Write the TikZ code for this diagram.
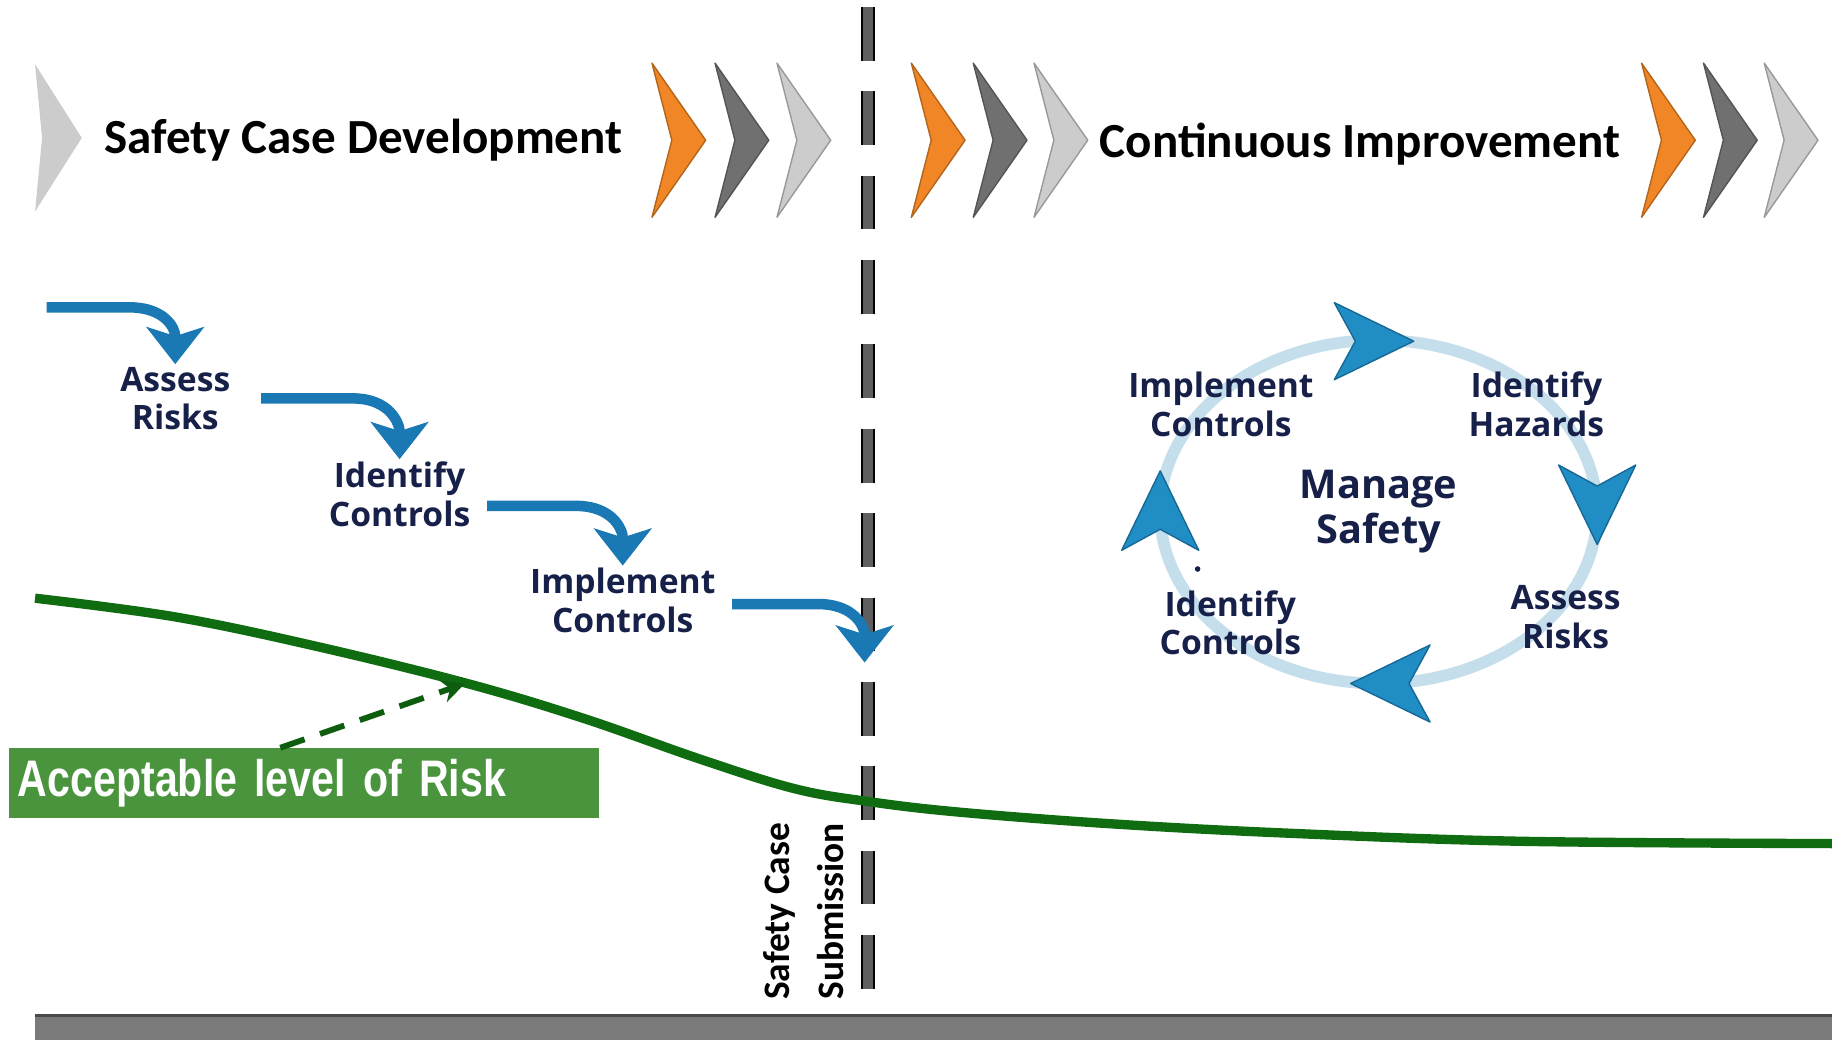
\documentclass[tikz,border=0pt]{standalone}
\usepackage{fontspec}
\setmainfont{Carlito}
\newfontfamily\stepfont{Open Sans}
\newfontfamily\riskfont{Liberation Sans}[FakeStretch=0.8]
\usepackage{xcolor}
\usepackage{tikz}
\usetikzlibrary{arrows.meta, calc}

\definecolor{chevorange}{RGB}{240,134,38}
\definecolor{chevdark}{RGB}{112,112,112}
\definecolor{chevlight}{RGB}{204,204,204}
\definecolor{labelnavy}{RGB}{22,32,72}
\definecolor{hookblue}{RGB}{26,120,180}
\definecolor{ringblue}{RGB}{196,222,236}
\definecolor{cycleblue}{RGB}{32,142,196}
\definecolor{cycleedge}{RGB}{22,104,150}
\definecolor{riskline}{RGB}{16,108,16}
\definecolor{riskgreen}{RGB}{74,148,62}
\definecolor{dividergray}{RGB}{95,95,95}
\definecolor{basegray}{RGB}{122,122,122}

\tikzset{
  cyclehead/.pic={
    \filldraw[fill=cycleblue, draw=cycleedge, line width=0.6pt, line join=round] (34,0) -- (-34,-33) -- (-16,0) -- (-34,33) -- cycle;
  }
}

\begin{document}
\begin{tikzpicture}[
    x=0.5pt, y=-0.5pt,
    chevron/.style={line width=0.6pt, line join=round},
    title/.style={font=\bfseries\fontsize{21}{25}\selectfont, text=black},
    steptext/.style={font=\stepfont\bfseries\fontsize{14.4}{16.5}\selectfont, text=labelnavy, align=center, inner sep=1pt},
    hubtext/.style={steptext, font=\stepfont\bfseries\fontsize{17}{19.5}\selectfont},
    sidetext/.style={font=\bfseries\fontsize{16}{23}\selectfont, rotate=90, align=center},
    hook/.style={draw=hookblue, line width=4.5pt, -{Stealth[length=16pt, width=25pt, inset=4pt, line width=0.5pt]}},
    ring/.style={draw=ringblue, line width=5pt},
    divider/.style={draw=black, line width=0.8pt, double=dividergray, double distance=4.4pt, dash pattern=on 23pt off 13.1pt},
    riskbox/.style={fill=riskgreen, text=white, font=\riskfont\bfseries\fontsize{22}{26}\selectfont, text width=244.5pt, minimum height=30pt, inner xsep=4pt, align=left},
    riskarrow/.style={draw=riskline!85!black, line width=2.5pt, dash pattern=on 11pt off 7pt, -{Stealth[length=10pt, width=10pt, line width=0.5pt]}}
]
\useasboundingbox (0,0) rectangle (1568,890);

% phase banner
\fill[chevlight] (30,55) -- (70,118) -- (30,181) -- (36,118) -- cycle;
\foreach \x/\col in {558/chevorange, 612/chevdark, 665/chevlight, 780/chevorange, 833/chevdark, 885/chevlight, 1405/chevorange, 1458/chevdark, 1510/chevlight}
  \filldraw[chevron, fill=\col, draw=\col!75!black] (\x,54) -- ++(46,66) -- ++(-46,66) -- ++(17,-66) -- cycle;
\node[title] (dev) at (311,120) {Safety Case Development};
\node[title] (improve) at (1164,123) {Continuous Improvement};

% submission line
\draw[divider] (743,6) -- (743,850);
\node[sidetext] (submission) at (688,780) {Safety Case\\Submission};

% risk curve
\draw[riskline, line width=4pt] plot[smooth, tension=0.6] coordinates {(30,512) (150,528) (270,553) (400,585) (500,615) (600,650) (680,675) (743,686) (820,695) (950,705) (1100,713) (1300,720) (1568,722)};
\coordinate (riskpt) at (398,585);
\node[riskbox, anchor=north west] (risklabel) at (7,640) {Acceptable level of Risk};
\draw[riskarrow] ([xshift=-10pt]risklabel.north) -- (riskpt);

% development steps
\coordinate (hookstart) at (40,263);
\coordinate (handover) at (740,567);
\node[steptext] (riskA) at (150,341) {Assess\\Risks};
\node[steptext] (ctrlA) at (342,423) {Identify\\Controls};
\node[steptext] (implA) at (533,514) {Implement\\Controls};
\coordinate (fromA) at ([xshift=12pt]riskA.east);
\coordinate (fromB) at ([xshift=6pt,yshift=-5pt]ctrlA.east);
\coordinate (fromC) at ([xshift=6pt,yshift=-1.5pt]implA.east);
\draw[hook] (hookstart) -- ($(hookstart -| riskA.north)+(-40,0)$) .. controls +(32,0) and +(0,-30) .. (riskA.north);
\draw[hook] (fromA) -- ($(fromA -| ctrlA.north)+(-40,0)$) .. controls +(32,0) and +(0,-30) .. (ctrlA.north);
\draw[hook] (fromB) -- ($(fromB -| implA.north)+(-40,0)$) .. controls +(32,0) and +(0,-30) .. (implA.north);
\draw[hook] (fromC) -- ($(fromC -| handover)+(-40,0)$) .. controls +(32,0) and +(0,-30) .. (handover);

% improvement cycle
\coordinate (cyclecentre) at (1180,438);
\draw[ring] (cyclecentre) ellipse[x radius=187, y radius=147];
\pic at (1176,292) {cyclehead};
\pic[rotate=-90] at (1367,432) {cyclehead};
\pic[rotate=180] at (1190,585) {cyclehead};
\pic[rotate=90] at (993,437) {cyclehead};
\node[steptext] (implB) at (1045,346) {Implement\\Controls};
\node[steptext] (hazB) at (1315,346) {Identify\\Hazards};
\node[hubtext] (hub) at (1180,438) {Manage\\Safety};
\node[steptext] (riskB) at (1340,528) {Assess\\Risks};
\node[steptext] (ctrlB) at (1053,533) {Identify\\Controls};
\fill[labelnavy] (1025,487) circle[radius=1.2pt];

% time axis
\fill[basegray] (30,868) rectangle (1568,890);
\draw[basegray!60!black, line width=1pt] (30,869) -- (1568,869);

\end{tikzpicture}
\end{document}
